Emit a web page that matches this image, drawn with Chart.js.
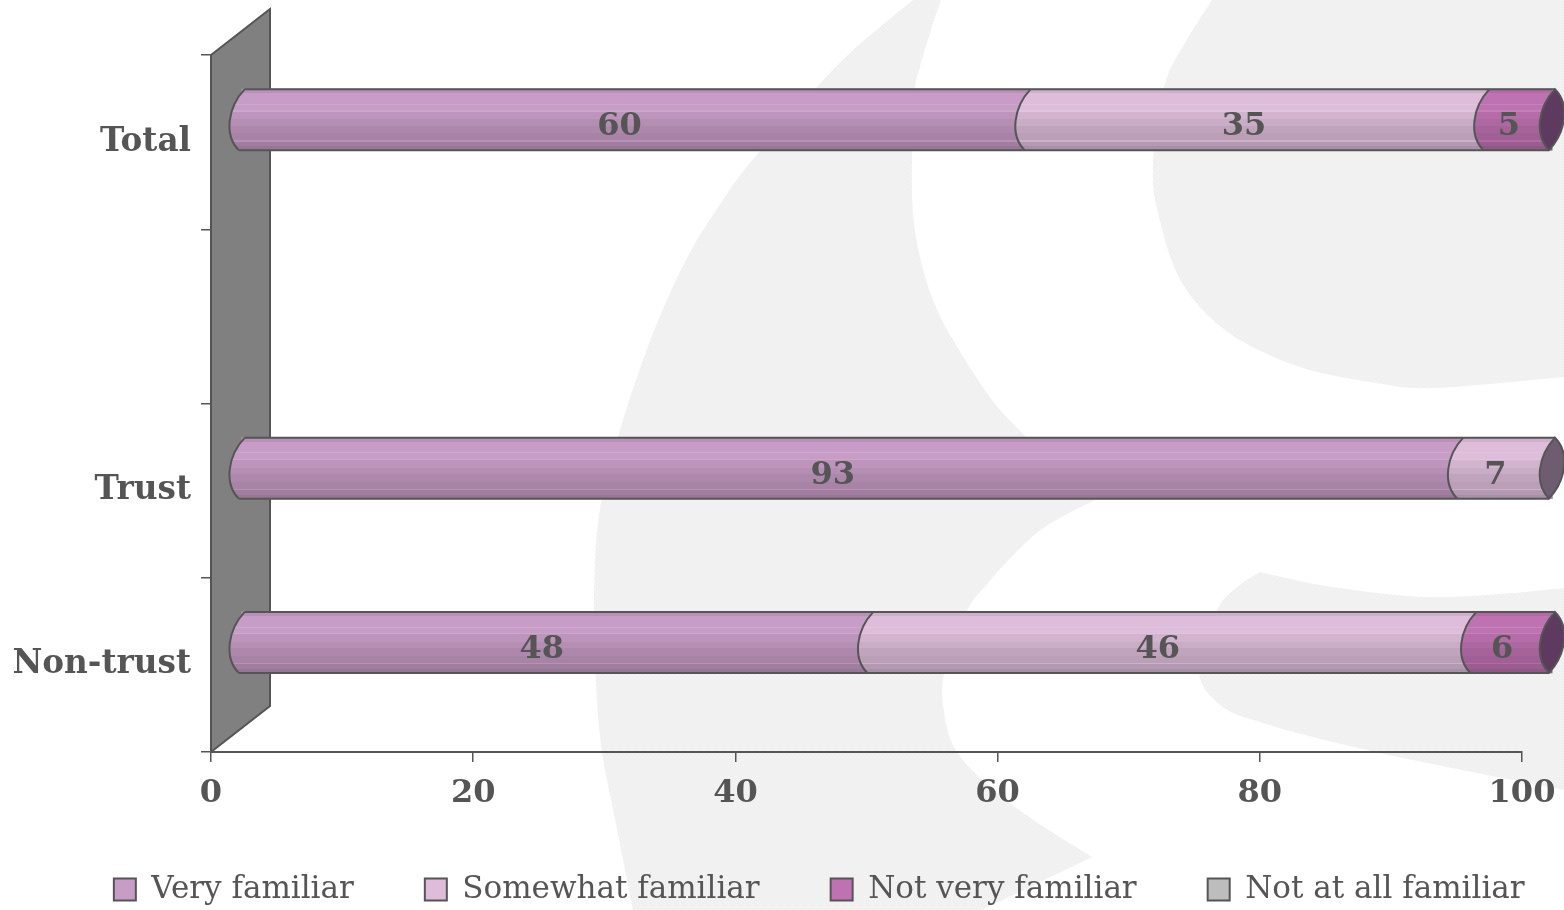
<!DOCTYPE html>
<html>
<head>
<meta charset="utf-8">
<title>Familiarity</title>
<style>
  html, body { margin: 0; padding: 0; background: #fff; overflow: hidden; }
  canvas { display: block; }
</style>
<script src="https://cdn.jsdelivr.net/npm/chart.js@4/dist/chart.umd.js"></script>
</head>
<body>
<canvas id="grafico" width="1564" height="910"></canvas>
<script>
const categorias = ['Total', '', 'Trust', 'Non-trust']
const veryFamiliar = [60, null, 93, 48]
const somewhatFamiliar = [35, null, 7, 46]
const notVeryFamiliar = [5, null, 0, 6]
const notAtAllFamiliar = [0, null, 0, 0]
const nomesSeries = ['Very familiar', 'Somewhat familiar', 'Not very familiar', 'Not at all familiar']
const valoresSeries = [veryFamiliar, somewhatFamiliar, notVeryFamiliar, notAtAllFamiliar]
const coresSeries = ['#c79cc6', '#ddbdda', '#bf72b1', '#bdbdbd']
const coresTampa = ['#5a3a5c', '#6e5c70', '#5e3a60', '#707070']
const ticksX = [0, 20, 40, 60, 80, 100]

const CINZA = '#555555'
const FONTE = '"DejaVu Serif", serif'
// profundidade do efeito 3D
const PAREDE_X = 59, PAREDE_Y = 46
const DESLOC_X = 30, DESLOC_Y = -22.5

// faixas do cilindro: [inicio, fim, tom]
const faixas = [
  [0, .07, .93], [.07, .24, 1], [.24, .26, 1.07], [.26, .35, 1], [.35, .37, 1.06], [.37, .49, .95],
  [.49, .6, .91], [.6, .72, .87], [.72, .84, .84], [.84, .86, .93], [.86, .94, .81], [.94, 1, .76]
]

// marca d'agua do fundo, trechos suavizados
const marcaA = [
  [[913,0],[880,27],[850,53],[817,87],[750,163],[723,200],[693,247],[667,300],[643,360],[618,437],[599,515],[594,600],[596,684],[602,752],[615,819],[633,910]],
  [[982,910],[1092,857]],
  [[1092,857],[1032,819],[988,785],[957,752],[945,718],[944,674],[966,613],[988,583],[1038,532],[1095,500]],
  [[1095,500],[1026,437]],
  [[1026,437],[992,400],[953,340],[933,300],[920,257],[913,213],[912,157],[915,90],[920,67],[930,33],[941,0]]
]
const marcaB = [
  [[1212,0],[1185,43],[1164,87],[1153,167],[1159,217],[1182,283],[1229,333],[1300,367],[1377,383],[1435,388],[1564,377]],
  [[1564,377],[1564,0]]
]
const marcaC = [
  [[1564,588],[1513,593],[1447,597],[1397,595],[1320,585],[1260,572]],
  [[1260,572],[1240,585],[1217,610],[1199,672],[1223,707],[1263,723],[1313,737],[1380,753],[1447,767],[1513,780],[1564,790]]
]

const ajustaTom = (hex, tom) => {
  const n = parseInt(hex.slice(1), 16)
  const canal = v => Math.min(255, Math.round(tom > 1 ? v + (255 - v) * (tom - 1) * 1.6 : v * tom))
  return `rgb(${canal(n >> 16)},${canal((n >> 8) & 255)},${canal(n & 255)})`
}

const gradienteCilindro = (ctx, topo, base, cor) => {
  const g = ctx.createLinearGradient(0, topo, 0, base)
  faixas.forEach(([a, b, tom]) => {
    g.addColorStop(a, ajustaTom(cor, tom))
    g.addColorStop(b, ajustaTom(cor, tom))
  })
  return g
}

// catmull-rom passando pelos pontos
const trecho = (ctx, pts) => {
  for (let i = 0; i < pts.length - 1; i++) {
    const p0 = pts[i - 1] || pts[i], p1 = pts[i], p2 = pts[i + 1], p3 = pts[i + 2] || p2
    ctx.bezierCurveTo(
      p1[0] + (p2[0] - p0[0]) / 6, p1[1] + (p2[1] - p0[1]) / 6,
      p2[0] - (p3[0] - p1[0]) / 6, p2[1] - (p3[1] - p1[1]) / 6,
      p2[0], p2[1])
  }
}

const padraoMarca = ctx => {
  const tile = document.createElement('canvas')
  tile.width = tile.height = 8
  const t = tile.getContext('2d')
  t.fillStyle = '#f0f0f0'
  t.fillRect(0, 0, 8, 8)
  t.fillStyle = '#f8f8f8'
  ;[[0,0],[3,1],[6,0],[1,3],[5,3],[7,5],[3,5],[0,6],[5,7]].forEach(([x, y]) => t.fillRect(x, y, 1, 1))
  return ctx.createPattern(tile, 'repeat')
}

const fundoPlugin = {
  id: 'fundo',
  beforeDraw(chart) {
    const ctx = chart.ctx
    ctx.save()
    ctx.fillStyle = padraoMarca(ctx)
    ;[marcaA, marcaB, marcaC].forEach(forma => {
      ctx.beginPath()
      ctx.moveTo(forma[0][0][0], forma[0][0][1])
      forma.forEach(pts => {
        ctx.lineTo(pts[0][0], pts[0][1])
        trecho(ctx, pts)
      })
      ctx.closePath()
      ctx.fill()
    })
    ctx.restore()
  }
}

// curva esquerda do cilindro (levemente inclinada)
const curvaEsq = (ctx, cx, topo, base) => ctx.bezierCurveTo(cx - 14, topo + 18, cx - 18, base - 15, cx - 3, base)
const curvaDirSubindo = (ctx, cx, topo, base) => ctx.bezierCurveTo(cx + 14, base - 18, cx + 18, topo + 15, cx + 3, topo)

const cilindroPlugin = {
  id: 'cilindro',
  afterLayout(chart) {
    // a legenda fica deslocada em relacao ao centro do canvas
    const lg = chart.legend
    lg.left += 37.25
    lg.right += 37.25
    lg.top = 803
    lg.bottom = 910
  },
  beforeDatasetsDraw(chart) {
    const ctx = chart.ctx, { left, top, bottom } = chart.chartArea
    ctx.save()
    ctx.beginPath()
    ctx.moveTo(left, top)
    ctx.lineTo(left + PAREDE_X, top - PAREDE_Y)
    ctx.lineTo(left + PAREDE_X, bottom - PAREDE_Y)
    ctx.lineTo(left, bottom)
    ctx.closePath()
    ctx.fillStyle = '#808080'
    ctx.fill()
    ctx.strokeStyle = CINZA
    ctx.lineWidth = 2
    ctx.stroke()
    ctx.restore()
    ctx.save()
    ctx.translate(DESLOC_X, DESLOC_Y)
  },
  afterDatasetsDraw(chart) {
    const ctx = chart.ctx
    categorias.forEach((_, linha) => {
      let primeiro = null, ultimo = null
      valoresSeries.forEach((serie, s) => {
        if (serie[linha] > 0) {
          const el = chart.getDatasetMeta(s).data[linha]
          const topo = el.y - el.height / 2, base = el.y + el.height / 2
          // emenda arredondada sobre o segmento anterior
          ctx.beginPath()
          ctx.moveTo(el.base + 3, topo)
          curvaEsq(ctx, el.base, topo, base)
          ctx.lineTo(el.base + 4, base)
          ctx.lineTo(el.base + 4, topo)
          ctx.closePath()
          ctx.fillStyle = gradienteCilindro(ctx, topo, base, coresSeries[s])
          ctx.fill()
          if (primeiro === null) primeiro = { x: el.base, topo, base }
          ultimo = { x: el.x, topo, base, s }
          ctx.beginPath()
          ctx.moveTo(el.base + 3, topo)
          curvaEsq(ctx, el.base, topo, base)
          ctx.strokeStyle = CINZA
          ctx.lineWidth = 2
          ctx.stroke()
        }
      })
      if (primeiro === null) return
      const { topo, base } = ultimo
      ctx.beginPath()
      ctx.moveTo(ultimo.x + 3, topo)
      curvaEsq(ctx, ultimo.x, topo, base)
      curvaDirSubindo(ctx, ultimo.x, topo, base)
      ctx.closePath()
      ctx.fillStyle = coresTampa[ultimo.s]
      ctx.fill()
      ctx.strokeStyle = CINZA
      ctx.lineWidth = 2
      ctx.stroke()
      ctx.beginPath()
      ctx.moveTo(primeiro.x + 3, topo)
      ctx.lineTo(ultimo.x + 3, topo)
      ctx.moveTo(primeiro.x - 3, base)
      ctx.lineTo(ultimo.x - 3, base)
      ctx.stroke()
    })
    // rotulos de valor
    ctx.font = `bold 32px ${FONTE}`
    ctx.fillStyle = CINZA
    ctx.textAlign = 'center'
    ctx.textBaseline = 'middle'
    valoresSeries.forEach((serie, s) => {
      chart.getDatasetMeta(s).data.forEach((el, linha) => {
        if (serie[linha] > 0) ctx.fillText(serie[linha], (el.base + el.x) / 2 - 10 - (el.x - el.base) / 150, el.y + 7.5)
      })
    })
    ctx.restore()
  }
}

new Chart(document.getElementById('grafico'), {
  type: 'bar',
  data: {
    labels: categorias,
    datasets: nomesSeries.map((nome, s) => ({
      label: nome,
      data: valoresSeries[s],
      clip: false,
      barThickness: 61,
      borderWidth: 0,
      backgroundColor: c => {
        const y = c.chart.scales.y.getPixelForValue(c.dataIndex)
        return gradienteCilindro(c.chart.ctx, y - 30.5, y + 30.5, coresSeries[s])
      }
    }))
  },
  options: {
    indexAxis: 'y',
    responsive: false,
    animation: false,
    layout: { padding: { top: 55 } },
    scales: {
      x: {
        stacked: true,
        min: 0,
        max: 100,
        afterBuildTicks: s => { s.ticks = ticksX.map(value => ({ value })) },
        afterFit: s => { s.height = 98 },
        grid: { drawOnChartArea: false, color: CINZA, tickColor: CINZA, tickLength: 10, lineWidth: 1.5 },
        border: { color: CINZA, width: 2 },
        // padding maior que 9 empurra a area do grafico, por isso o lineHeight
        ticks: { color: CINZA, padding: 8, maxRotation: 0, font: { family: FONTE, size: 32, weight: 'bold', lineHeight: 1.45 } }
      },
      y: {
        stacked: true,
        afterFit: s => { s.width = 211 },
        grid: { drawOnChartArea: false, color: CINZA, tickColor: CINZA, tickLength: 10, lineWidth: 1.5 },
        border: { color: CINZA, width: 2 },
        ticks: { color: CINZA, padding: 10, font: { family: FONTE, size: 32.7, weight: 'bold' } }
      },
      // so reserva a margem direita da area do grafico
      margem: {
        type: 'linear',
        position: 'right',
        afterFit: s => { s.width = 42 },
        grid: { display: false },
        border: { display: false },
        ticks: { display: false }
      }
    },
    plugins: {
      tooltip: { enabled: false },
      legend: {
        position: 'bottom',
        maxHeight: 60,
        labels: {
          boxWidth: 22,
          boxHeight: 22,
          padding: 71,
          color: CINZA,
          font: { family: FONTE, size: 31 },
          generateLabels: () => nomesSeries.map((text, i) => ({
            text,
            datasetIndex: i,
            fillStyle: coresSeries[i],
            strokeStyle: CINZA,
            lineWidth: 2,
            fontColor: CINZA
          }))
        }
      }
    }
  },
  plugins: [fundoPlugin, cilindroPlugin]
})
</script>
</body>
</html>
